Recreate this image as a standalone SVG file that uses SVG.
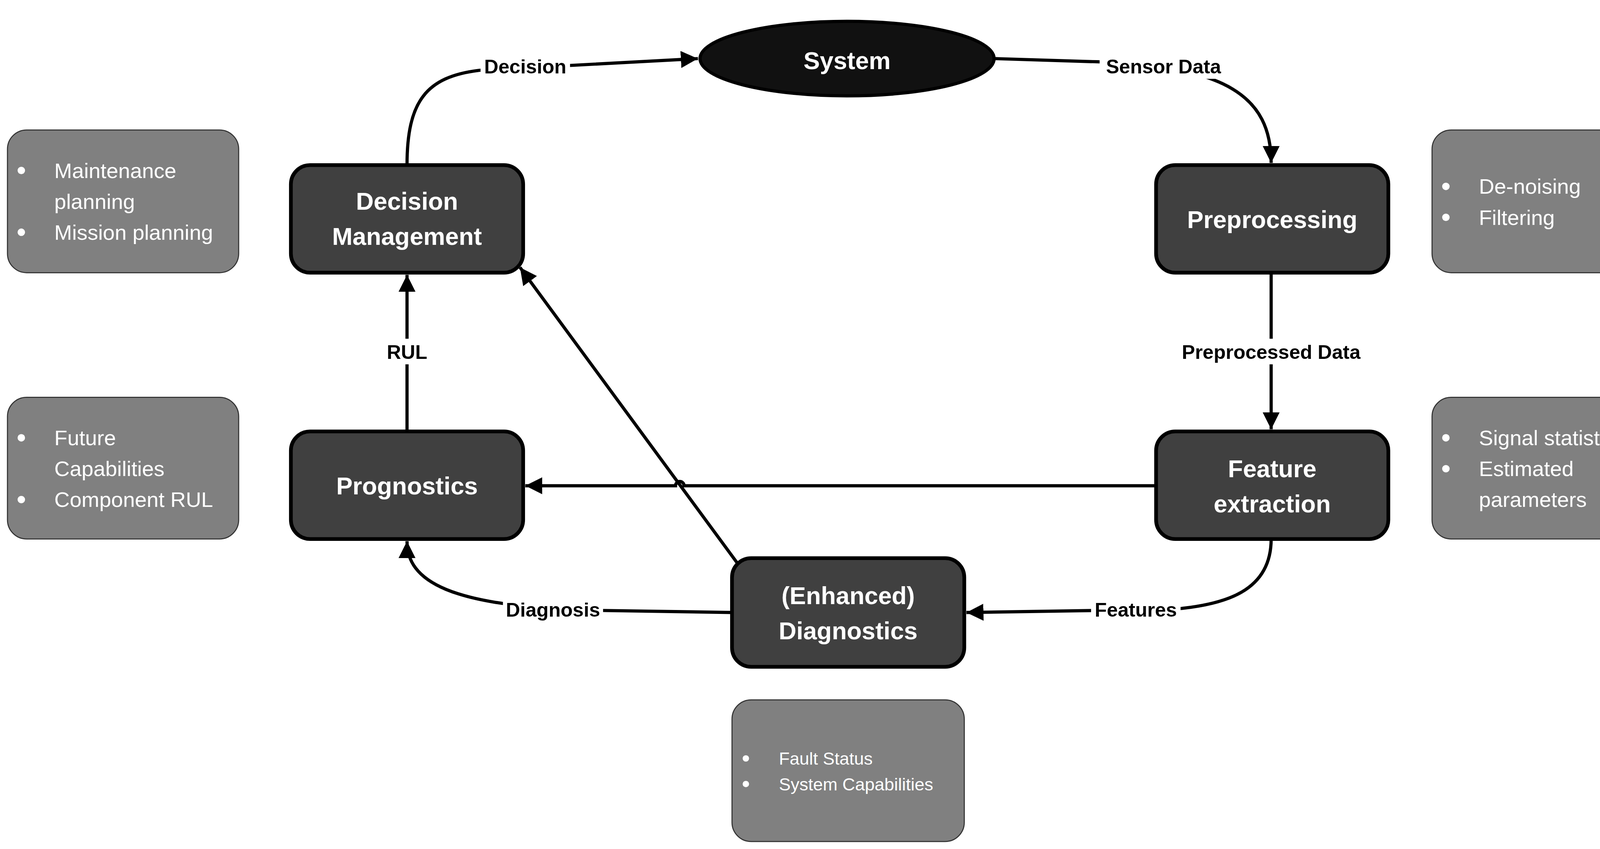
<svg xmlns="http://www.w3.org/2000/svg" width="4277" height="2174" viewBox="0 0 4277 2174">
<style>
.n{fill:#404040;stroke:#000;stroke-width:3.5}
.g{fill:#808080;stroke:#333;stroke-width:1}
.nt{font-family:"Liberation Sans",Arial,sans-serif;font-weight:bold;font-size:23px;fill:#fff;text-anchor:middle}
.gt{font-family:"Liberation Sans",Arial,sans-serif;font-size:20px;fill:#fff}
.bt{font-family:"Liberation Sans",Arial,sans-serif;font-size:16.5px;fill:#fff}
.el{font-family:"Liberation Sans",Arial,sans-serif;font-weight:bold;font-size:18.5px;fill:#000;text-anchor:middle}
.c{fill:none;stroke:#000;stroke-width:3}
.lb{fill:#fff}
</style>
<defs>
<marker id="a" markerUnits="userSpaceOnUse" markerWidth="18" markerHeight="16" refX="16" refY="8" orient="auto">
<path d="M0,0 L16,8 L0,16 Z" fill="#000"/>
</marker>
</defs>
<rect width="4277" height="2174" fill="#fff"/>
<g transform="scale(2.7277)">
<g id="connectors">
<path class="c" d="M382,155 C382,95 400,72 450,66 L655,55" marker-end="url(#a)"/>
<path class="c" d="M933,55 L1030,58 C1150,62 1193,90 1193,153" marker-end="url(#a)"/>
<path class="c" d="M1193,256 L1193,403" marker-end="url(#a)"/>
<path class="c" d="M1085,456 L642,456 A4,4 0 0 0 634,456 L493,456" marker-end="url(#a)"/>
<path class="c" d="M1193,506 C1193,555 1150,568 1100,572 L907,575" marker-end="url(#a)"/>
<path class="c" d="M687,575 L560,573 C420,570 382,545 382,508" marker-end="url(#a)"/>
<path class="c" d="M382,405 L382,258" marker-end="url(#a)"/>
<path class="c" d="M693,530 L488,251" marker-end="url(#a)"/>
<rect class="lb" x="451" y="50" width="84" height="24"/>
<text class="el" x="493" y="69">Decision</text>
<rect class="lb" x="1032" y="50" width="120" height="24"/>
<text class="el" x="1092" y="69">Sensor Data</text>
<rect class="lb" x="1100" y="318" width="186" height="24"/>
<text class="el" x="1193" y="337">Preprocessed Data</text>
<rect class="lb" x="1024" y="560" width="84" height="24"/>
<text class="el" x="1066" y="579">Features</text>
<rect class="lb" x="472" y="560" width="94" height="24"/>
<text class="el" x="519" y="579">Diagnosis</text>
<rect class="lb" x="360" y="318" width="44" height="24"/>
<text class="el" x="382" y="337">RUL</text>
</g>
<g id="system">
<ellipse cx="795" cy="55" rx="138" ry="35" fill="#111" stroke="#000" stroke-width="3"/>
<text class="nt" x="795" y="65" font-size="29">System</text>
</g>
<g id="decision">
<rect class="n" x="273" y="155" width="218" height="101" rx="18"/>
<text class="nt" x="382" y="197">Decision</text>
<text class="nt" x="382" y="230">Management</text>
</g>
<g id="preprocessing">
<rect class="n" x="1085" y="155" width="218" height="101" rx="18"/>
<text class="nt" x="1194" y="214">Preprocessing</text>
</g>
<g id="feature">
<rect class="n" x="1085" y="405" width="218" height="101" rx="18"/>
<text class="nt" x="1194" y="448">Feature</text>
<text class="nt" x="1194" y="481">extraction</text>
</g>
<g id="prognostics">
<rect class="n" x="273" y="405" width="218" height="101" rx="18"/>
<text class="nt" x="382" y="464">Prognostics</text>
</g>
<g id="diagnostics">
<rect class="n" x="687" y="524" width="218" height="102" rx="18"/>
<text class="nt" x="796" y="567">(Enhanced)</text>
<text class="nt" x="796" y="600">Diagnostics</text>
</g>
<g id="info-decision">
<rect class="g" x="7" y="122" width="217" height="134" rx="18"/>
<circle cx="20" cy="160" r="3.5" fill="#fff"/><circle cx="20" cy="218" r="3.5" fill="#fff"/>
<text class="gt" x="51" y="167">Maintenance</text>
<text class="gt" x="51" y="196">planning</text>
<text class="gt" x="51" y="225">Mission planning</text>
</g>
<g id="info-prognostics">
<rect class="g" x="7" y="373" width="217" height="133" rx="18"/>
<circle cx="20" cy="411" r="3.5" fill="#fff"/><circle cx="20" cy="469" r="3.5" fill="#fff"/>
<text class="gt" x="51" y="418">Future</text>
<text class="gt" x="51" y="447">Capabilities</text>
<text class="gt" x="51" y="476">Component RUL</text>
</g>
<g id="info-preprocessing">
<rect class="g" x="1344" y="122" width="217" height="134" rx="18"/>
<circle cx="1357" cy="175" r="3.5" fill="#fff"/><circle cx="1357" cy="204" r="3.5" fill="#fff"/>
<text class="gt" x="1388" y="182">De-noising</text>
<text class="gt" x="1388" y="211">Filtering</text>
</g>
<g id="info-feature">
<rect class="g" x="1344" y="373" width="217" height="133" rx="18"/>
<circle cx="1357" cy="411" r="3.5" fill="#fff"/><circle cx="1357" cy="440" r="3.5" fill="#fff"/>
<text class="gt" x="1388" y="418">Signal statistics</text>
<text class="gt" x="1388" y="447">Estimated</text>
<text class="gt" x="1388" y="476">parameters</text>
</g>
<g id="info-diagnostics">
<rect class="g" x="687" y="657" width="218" height="133" rx="18"/>
<circle cx="700" cy="712" r="3" fill="#fff"/><circle cx="700" cy="736" r="3" fill="#fff"/>
<text class="bt" x="731" y="718">Fault Status</text>
<text class="bt" x="731" y="742">System Capabilities</text>
</g>
</g>
</svg>
